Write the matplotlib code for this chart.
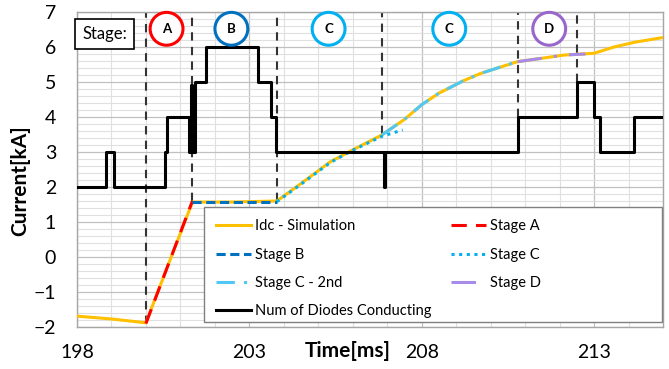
import matplotlib.pyplot as plt
import numpy as np
from matplotlib.patches import Rectangle
from matplotlib.ticker import MultipleLocator
from matplotlib.transforms import blended_transform_factory

plt.rcParams['font.family'] = ['Lato', 'DejaVu Sans']

# Idc simulation [kA]
idc_t = [198, 199, 200.0, 201.35, 202.5, 203.8, 204.5, 205.35, 206.0, 206.85, 207.5, 208.0,
         208.5, 209.2, 209.7, 210.2, 210.78, 211.5, 212.13, 213.0, 213.58, 214.2, 215]
idc_v = [-1.69, -1.77, -1.88, 1.57, 1.57, 1.6, 2.1, 2.72, 3.06, 3.49, 3.93, 4.35,
         4.68, 5.03, 5.24, 5.4, 5.58, 5.68, 5.77, 5.82, 6.0, 6.14, 6.27]

# stage fits
stage_a_t = [200.0, 201.35]
stage_a_v = [-1.9, 1.6]
stage_b_t = [201.35, 203.8]
stage_b_v = [1.58, 1.58]
stage_c_t = [203.8, 204.5, 205.35, 206.0, 206.85, 207.45]
stage_c_v = [1.58, 2.08, 2.7, 3.05, 3.45, 3.63]
stage_c2_t = [206.85, 207.5, 208.0, 208.5, 209.2, 209.7, 210.2, 210.78]
stage_c2_v = [3.49, 3.93, 4.35, 4.68, 5.03, 5.24, 5.4, 5.58]
stage_d_t = [210.78, 211.5, 212.13, 212.75]
stage_d_v = [5.58, 5.68, 5.77, 5.8]

# number of diodes conducting (step changes)
diode_t = [198, 198.84, 199.08, 200.55, 200.6, 201.26, 201.32, 201.34, 201.36, 201.38, 201.42,
           201.74, 203.24, 203.63, 203.78, 206.9, 206.94, 210.78, 212.5, 213.01, 213.18, 214.15, 215]
diode_n = [2, 3, 2, 3, 4, 3, 4.9, 3, 4.4, 3, 5,
           6, 5, 4, 3, 2, 3, 4, 5, 4, 3, 4, 4]

# stage boundaries and labels
bound_t = [200.0, 201.35, 203.8, 206.85, 210.78, 212.5]
bound_low = [-1.9, 1.6, 1.6, 3.5, 4.0, 5.0]
stage_names = ['A', 'B', 'C', 'C', 'D']
stage_x = [200.6, 202.48, 205.3, 208.8, 211.7]
stage_colors = ['#FF0000', '#0070C0', '#00B0F0', '#00B0F0', '#9966CC']

x_ticks = [198, 203, 208, 213]

fig = plt.figure(figsize=(6.69, 3.69), dpi=100)
ax = fig.add_axes([0.115, 0.1138, 0.876, 0.8537])

ax.plot(idc_t, idc_v, color='#FFC000', lw=2.2, label='Idc - Simulation', zorder=3)
ax.plot(stage_a_t, stage_a_v, color='#FF0000', lw=2.2, ls=(0, (5, 3)), label='Stage A', zorder=4)
ax.plot(stage_b_t, stage_b_v, color='#0070C0', lw=2.2, ls=(0, (3, 1.5)), label='Stage B', zorder=4)
ax.plot(stage_c_t, stage_c_v, color='#00B0F0', lw=2.2, ls=(0, (1, 1.5)), label='Stage C', zorder=4)
ax.plot(stage_c2_t, stage_c2_v, color='#4FC8F5', lw=2.2, ls=(0, (6, 3, 1, 3)),
        label='Stage C - 2nd', zorder=4)
ax.plot(stage_d_t, stage_d_v, color='#A68BE8', lw=2.2, ls=(0, (8, 4, 1, 4)), label='Stage D', zorder=4)
ax.plot(diode_t, diode_n, color='black', lw=2.2, drawstyle='steps-post',
        label='Num of Diodes Conducting', zorder=5)

ax.vlines(bound_t, bound_low, 7, colors='#333333', lw=1.5, linestyles=(0, (4, 3)), zorder=2)

# stage circles
ax.scatter(stage_x, [6.52] * len(stage_x), s=560, facecolor='white', edgecolor=stage_colors,
           linewidth=2.2, zorder=6, clip_on=False)
for x, name in zip(stage_x, stage_names):
    ax.text(x, 6.52, name, ha='center', va='center', fontsize=9.5, fontweight='bold', zorder=7)

ax.text(198.8, 6.36, 'Stage:', ha='center', va='center', fontsize=12, zorder=7,
        bbox=dict(boxstyle='square,pad=0.42', facecolor='white', edgecolor='black', lw=1.2))

ax.set_xlim(198, 215)
ax.set_ylim(-2, 7)
ax.set_xticks(x_ticks)
ax.xaxis.set_minor_locator(MultipleLocator(1))
ax.yaxis.set_major_locator(MultipleLocator(1))
ax.yaxis.set_minor_locator(MultipleLocator(0.2))
ax.grid(which='major', color='#c0c0c0', lw=0.9, zorder=0)
ax.grid(which='minor', color='#e0e0e0', lw=0.8, zorder=0)
ax.set_axisbelow(True)
ax.tick_params(which='both', length=0, labelsize=14)
ax.tick_params(axis='y', pad=15)
ax.tick_params(axis='x', pad=12)
for s in ax.spines.values():
    s.set_color('#a6a6a6')
    s.set_linewidth(1.0)

ax.set_ylabel('Current[kA]', fontsize=15, fontweight='bold', labelpad=2)
ax.yaxis.set_label_coords(-0.079, 0.465)
trans = blended_transform_factory(ax.transData, ax.transAxes)
ax.text(205.85, -0.076, 'Time[ms]', transform=trans, ha='center', va='center',
        fontsize=15, fontweight='bold')

# legend: white box behind, entries laid out column by column
ax.add_patch(Rectangle((0.2167, 0.016), 0.782, 0.365, transform=ax.transAxes, facecolor='white',
                       edgecolor='#808080', lw=1.0, zorder=7, clip_on=False))
h, l = ax.get_legend_handles_labels()
order = [0, 2, 4, 6, 1, 3, 5]
leg = ax.legend([h[i] for i in order], [l[i] for i in order], ncol=2, loc='upper left',
                bbox_to_anchor=(0.2167, 0.381), fontsize=10.5, frameon=False,
                handlelength=2.4, handletextpad=0.27, labelspacing=0.98, columnspacing=1.3,
                borderpad=0.85, borderaxespad=0)
leg.set_zorder(8)

fig.savefig('out.png', dpi=100)
